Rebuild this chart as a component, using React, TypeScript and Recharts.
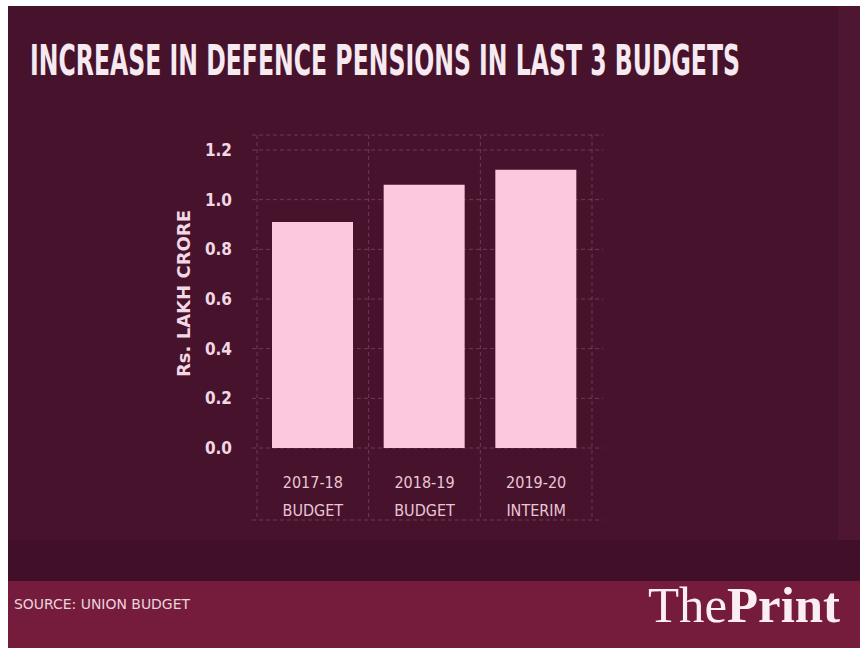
import { BarChart, Bar, XAxis, YAxis, CartesianGrid } from "recharts"

// values (Rs. lakh crore)
const years = ["2017-18", "2018-19", "2019-20"]
const kinds = ["BUDGET", "BUDGET", "INTERIM"]
const pensions = [0.91, 1.06, 1.12]
const yTicks = [0, 0.2, 0.4, 0.6, 0.8, 1.0, 1.2]

const data = years.map((year, i) => ({ year, kind: kinds[i], value: pensions[i] }))

const BG = "#47122c"
const PINK = "#fcc8de"
const TEXT = "#f2d8e4"
const COND = "'DejaVu Sans Condensed', 'DejaVu Sans', sans-serif"

const padL = 5
const padR = 11

const YTick = ({ x, y, payload }: any) => (
  <text x={x} y={y} dy={6} textAnchor="end" fill={TEXT} fontFamily={COND} fontWeight="bold" fontSize={17}>
    {Number(payload.value).toFixed(1)}
  </text>
)

const XTick = ({ x, y, payload }: any) => (
  <text x={x} y={y} textAnchor="middle" fill="#e9c7d6" fontFamily={COND} fontSize={16}>
    <tspan x={x} dy={-32}>{payload.value}</tspan>
    <tspan x={x} dy={28}>{kinds[payload.index]}</tspan>
  </text>
)

const YLabel = ({ viewBox }: any) => {
  const cx = viewBox.x + 23
  const cy = viewBox.y + viewBox.height / 2 - 34
  return (
    <text
      x={cx}
      y={cy}
      transform={`rotate(-90 ${cx} ${cy})`}
      textAnchor="middle"
      dominantBaseline="central"
      fill={TEXT}
      fontFamily={COND}
      fontWeight="bold"
      fontSize={18}
      textLength={167}
      lengthAdjust="spacingAndGlyphs"
    >
      Rs. LAKH CRORE
    </text>
  )
}

// grid lines sit on the category boundaries, not on the tick centres
const boundaries = ({ offset }: any) => {
  const start = offset.left + padL
  const step = (offset.width - padL - padR) / years.length
  return years.map((_, i) => start + i * step).concat(start + years.length * step)
}

export default function App() {
  return (
    <div style={{ position: "absolute", left: 0, top: 0, width: 860, height: 652, background: "#ffffff", overflow: "hidden" }}>
      <div style={{ position: "absolute", left: 8, top: 6, width: 852, height: 642, background: BG }} />
      <div style={{ position: "absolute", left: 8, top: 540, width: 852, height: 42, background: "#411028" }} />
      <div style={{ position: "absolute", left: 838, top: 6, width: 22, height: 534, background: "#4e1631" }} />
      <div style={{ position: "absolute", left: 8, top: 581, width: 852, height: 67, background: "#751c3d" }} />

      <div style={{ position: "absolute", left: 0, top: 0 }}>
        <BarChart width={860} height={652} data={data} margin={{ top: 135, right: 257, bottom: 112, left: 160 }}>
          <CartesianGrid
            stroke="#b27690"
            strokeOpacity={0.4}
            strokeDasharray="4 3"
            verticalCoordinatesGenerator={boundaries}
          />
          <XAxis
            dataKey="year"
            height={20}
            axisLine={false}
            tickLine={false}
            tickSize={0}
            tickMargin={0}
            padding={{ left: padL, right: padR }}
            tick={<XTick />}
            interval={0}
          />
          <YAxis
            width={92}
            domain={[0, 1.2]}
            ticks={yTicks}
            axisLine={false}
            tickLine={false}
            tickSize={0}
            tickMargin={20}
            padding={{ top: 15, bottom: 72 }}
            tick={<YTick />}
            label={<YLabel />}
          />
          <Bar dataKey="value" fill={PINK} barSize={81} isAnimationActive={false} />
        </BarChart>
      </div>

      <svg width={860} height={652} style={{ position: "absolute", left: 0, top: 0, pointerEvents: "none" }}>
        <text
          x={0}
          y={0}
          transform="translate(30 75) scale(1 1.65)"
          fill="#f6e9ef"
          fontFamily={COND}
          fontWeight="bold"
          fontSize={26}
          textLength={710}
          lengthAdjust="spacingAndGlyphs"
        >
          INCREASE IN DEFENCE PENSIONS IN LAST 3 BUDGETS
        </text>
        <text
          x={14}
          y={609}
          fill="#ecd3de"
          fontFamily={COND}
          fontSize={14}
          textLength={176}
          lengthAdjust="spacingAndGlyphs"
        >
          SOURCE: UNION BUDGET
        </text>
        <text
          x={648}
          y={622}
          fill="#fbeef3"
          fontFamily="'Liberation Serif', 'DejaVu Serif', serif"
          fontSize={50}
          textLength={192}
          lengthAdjust="spacingAndGlyphs"
        >
          The<tspan fontWeight="bold">Print</tspan>
        </text>
      </svg>
    </div>
  )
}
